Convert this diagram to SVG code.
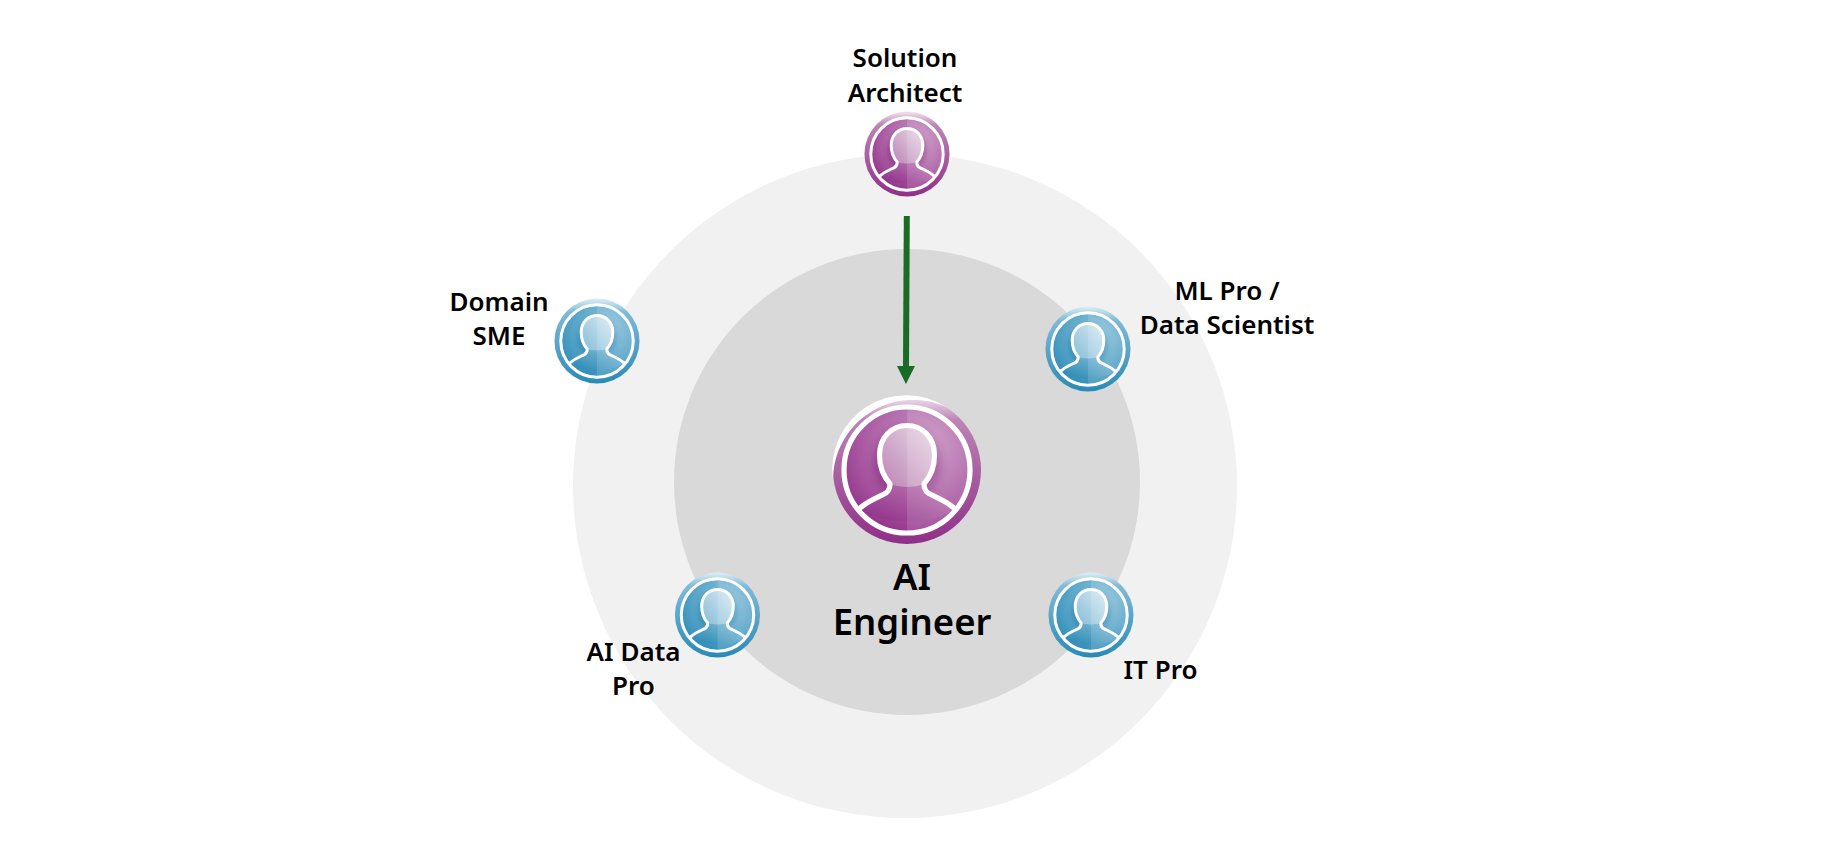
<svg xmlns="http://www.w3.org/2000/svg" xmlns:xlink="http://www.w3.org/1999/xlink" width="1841" height="852" viewBox="0 0 1841 852">
<style>
text{font-family:"Noto Sans","Open Sans","Liberation Sans",sans-serif;font-weight:600;fill:#000;text-anchor:middle}
.lb{font-size:26px}
.lg{font-size:36.5px}
.w{fill:none;stroke:#fff;stroke-width:5.2;stroke-linejoin:round;stroke-linecap:round}
</style>
<defs>
<linearGradient id="pRim" x1="0" y1="0" x2="0" y2="1"><stop offset="0" stop-color="#f1e6ef"/><stop offset=".16" stop-color="#bd84b5"/><stop offset="1" stop-color="#8f2f88"/></linearGradient>
<radialGradient id="pDisc" cx=".62" cy=".3" r=".8"><stop offset="0" stop-color="#cc9cc6"/><stop offset=".7" stop-color="#a4509c"/><stop offset="1" stop-color="#8e2d86"/></radialGradient>
<linearGradient id="pHead" x1="0" y1="1" x2="1" y2="0"><stop offset="0" stop-color="#bb82b3"/><stop offset="1" stop-color="#eadbe8"/></linearGradient>
<linearGradient id="pBody" x1="0" y1="1" x2="1" y2="0"><stop offset="0" stop-color="#8c2b85"/><stop offset="1" stop-color="#c07fb8"/></linearGradient>
<linearGradient id="bRim" x1="0" y1="0" x2="0" y2="1"><stop offset="0" stop-color="#dfeff6"/><stop offset=".16" stop-color="#7fbad6"/><stop offset="1" stop-color="#2a8ab5"/></linearGradient>
<radialGradient id="bDisc" cx=".62" cy=".3" r=".8"><stop offset="0" stop-color="#94c6de"/><stop offset=".7" stop-color="#4a9dc3"/><stop offset="1" stop-color="#2a88b3"/></radialGradient>
<linearGradient id="bHead" x1="0" y1="1" x2="1" y2="0"><stop offset="0" stop-color="#86bcd7"/><stop offset="1" stop-color="#d8ebf4"/></linearGradient>
<linearGradient id="bBody" x1="0" y1="1" x2="1" y2="0"><stop offset="0" stop-color="#2385b2"/><stop offset="1" stop-color="#88c0d9"/></linearGradient>
<filter id="soft" x="-30%" y="-30%" width="160%" height="160%"><feGaussianBlur stdDeviation="5"/></filter>
<clipPath id="discClip"><circle r="61"/></clipPath>
<g id="lines">
<circle class="w" r="63"/>
<path class="w" d="M-47 38C-38 30-28 27-21 23C-17 20-17 17-17 14C-24 6-27.500-5-27.500-15C-27.500-33-15-44.500 0-44.500C15-44.500 27.500-33 27.500-15C27.500-5 24 6 17 14C17 17 17 20 21 23C28 27 38 30 47 38"/>
</g>
<path id="headShape" d="M-17 14C-24 6-27.500-5-27.500-15C-27.500-33-15-44.500 0-44.500C15-44.500 27.500-33 27.500-15C27.500-5 24 6 17 14C9 18-9 18-17 14Z"/>
<path id="bodyShape" d="M-47 38C-38 30-28 27-21 23C-17 20-17 17-17 14C-9 18 9 18 17 14C17 17 17 20 21 23C28 27 38 30 47 38C30 56-30 56-47 38Z"/>
<path id="half" d="M0-61A61 61 0 0 1 0 61Z" fill="#fff" opacity=".13"/>
<g id="person-p">
<circle r="74" fill="url(#pRim)"/>
<circle r="61" fill="url(#pDisc)"/>
<g clip-path="url(#discClip)"><ellipse cy="-6" rx="34" ry="38" fill="#7d1f76" opacity=".5" filter="url(#soft)"/></g>
<use xlink:href="#bodyShape" fill="url(#pBody)"/>
<use xlink:href="#headShape" fill="url(#pHead)"/>
<use xlink:href="#half"/>
<use xlink:href="#lines"/>
</g>
<g id="person-b">
<circle r="74" fill="url(#bRim)"/>
<circle r="61" fill="url(#bDisc)"/>
<g clip-path="url(#discClip)"><ellipse cy="-6" rx="34" ry="38" fill="#1a78a5" opacity=".5" filter="url(#soft)"/></g>
<use xlink:href="#bodyShape" fill="url(#bBody)"/>
<use xlink:href="#headShape" fill="url(#bHead)"/>
<use xlink:href="#half"/>
<use xlink:href="#lines"/>
</g>
<marker id="arrow" markerUnits="userSpaceOnUse" markerWidth="18" markerHeight="18" refX="0" refY="9" orient="auto"><path d="M0 0L18 9L0 18Z" fill="#1a6b25"/></marker>
</defs>
<rect width="1841" height="852" fill="#fff"/>
<g id="rings">
<circle cx="905" cy="486" r="332" fill="#f1f1f1"/>
<circle cx="907" cy="482" r="233" fill="#d9d9d9"/>
</g>
<g id="connectors">
<path d="M906.800 216L906 366" fill="none" stroke="#1a6b25" stroke-width="6" marker-end="url(#arrow)"/>
</g>
<g id="node-solution-architect">
<use xlink:href="#person-p" transform="translate(907 154) scale(.575)"/>
<text class="lb" x="905" y="67">Solution</text>
<text class="lb" x="905" y="102">Architect</text>
</g>
<g id="node-domain-sme">
<use xlink:href="#person-b" transform="translate(597 341) scale(.575)"/>
<text class="lb" x="499" y="311">Domain</text>
<text class="lb" x="499" y="345">SME</text>
</g>
<g id="node-ml-pro">
<use xlink:href="#person-b" transform="translate(1088 349) scale(.575)"/>
<text class="lb" x="1227" y="300">ML Pro /</text>
<text class="lb" x="1227" y="334">Data Scientist</text>
</g>
<g id="node-ai-data-pro">
<use xlink:href="#person-b" transform="translate(717.500 615) scale(.575)"/>
<text class="lb" x="633.500" y="661">AI Data</text>
<text class="lb" x="633.500" y="695">Pro</text>
</g>
<g id="node-it-pro">
<use xlink:href="#person-b" transform="translate(1091 615) scale(.575)"/>
<text class="lb" x="1160.500" y="679">IT Pro</text>
</g>
<g id="node-ai-engineer">
<use xlink:href="#person-p" transform="translate(907 470)"/>
<path d="M-74 10A74 74 0 0 1 40-62.500A80 80 0 0 0-74 10Z" transform="translate(907 470)" fill="#fff"/>
<text class="lg" x="912" y="590">AI</text>
<text class="lg" x="912" y="635">Engineer</text>
</g>
</svg>
